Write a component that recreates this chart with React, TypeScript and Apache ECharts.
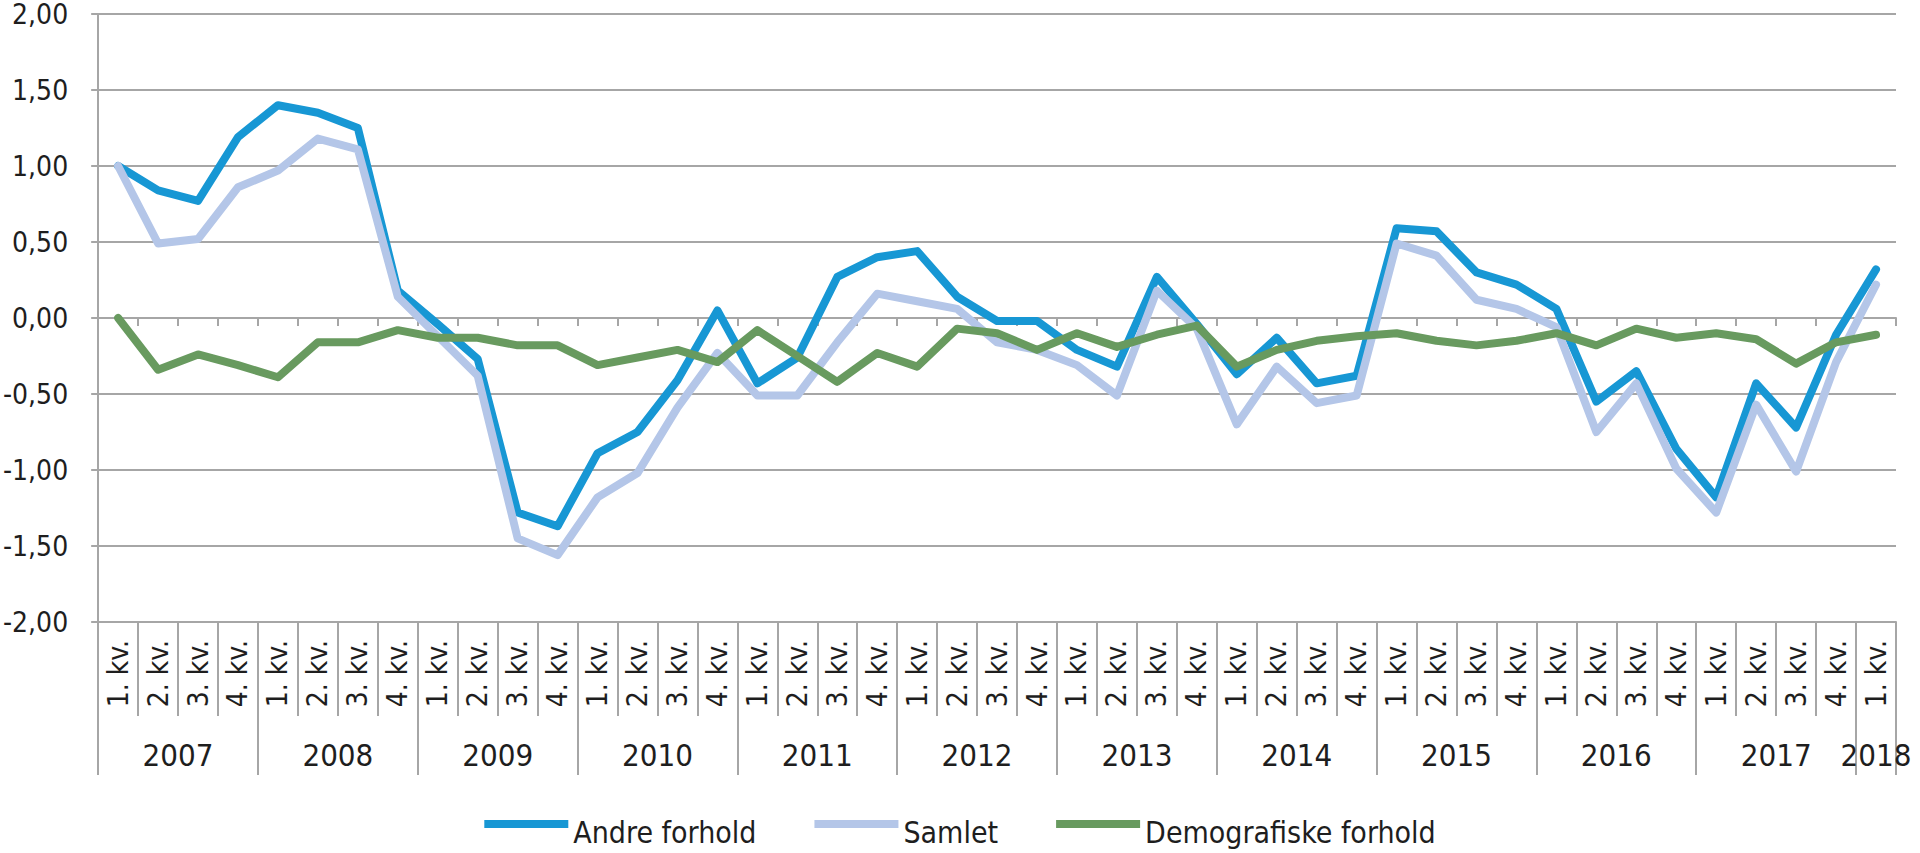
import React, { useEffect, useRef } from 'react';
import * as echarts from 'echarts';

const years = ['2007', '2008', '2009', '2010', '2011', '2012', '2013', '2014', '2015', '2016', '2017'];
const lastYear = '2018';
const quarterNames = ['1. kv.', '2. kv.', '3. kv.', '4. kv.'];

const andre = [
  1.0, 0.84, 0.77, 1.19, 1.4, 1.35, 1.25, 0.18,
  -0.04, -0.27, -1.28, -1.37,
  -0.89, -0.75, -0.41, 0.05,
  -0.43, -0.26, 0.27, 0.4,
  0.44, 0.14, -0.02, -0.02,
  -0.21, -0.32, 0.27, -0.04,
  -0.37, -0.13, -0.43, -0.38,
  0.59, 0.57, 0.3, 0.22,
  0.06, -0.55, -0.35, -0.86,
  -1.18, -0.43, -0.72, -0.11,
  0.32,
];

const samlet = [
  1.0, 0.49, 0.52, 0.86, 0.97, 1.18, 1.11, 0.14,
  -0.12, -0.38, -1.45, -1.56,
  -1.18, -1.02, -0.59, -0.23,
  -0.51, -0.51, -0.16, 0.16,
  0.11, 0.06, -0.16, -0.21,
  -0.31, -0.51, 0.18, -0.07,
  -0.7, -0.32, -0.56, -0.51,
  0.49, 0.41, 0.12, 0.06,
  -0.06, -0.75, -0.43, -0.99,
  -1.28, -0.57, -1.01, -0.29,
  0.22,
];

const demo = [
  0.0, -0.34, -0.24, -0.31, -0.39, -0.16, -0.16, -0.08,
  -0.13, -0.13, -0.18, -0.18,
  -0.31, -0.26, -0.21, -0.29,
  -0.08, -0.25, -0.42, -0.23,
  -0.32, -0.07, -0.1, -0.21,
  -0.1, -0.19, -0.11, -0.05,
  -0.32, -0.21, -0.15, -0.12,
  -0.1, -0.15, -0.18, -0.15,
  -0.1, -0.18, -0.07, -0.13,
  -0.1, -0.14, -0.3, -0.16,
  -0.11,
];

const seriesNames = ['Andre forhold', 'Samlet', 'Demografiske forhold'];
const seriesColors = ['#1797d4', '#b4c6e8', '#689a5f'];

const FONT = '"DejaVu Sans Condensed", "DejaVu Sans", sans-serif';
const TEXT = '#1e1e1e';
const GRAY = '#a6a6a6';

export default function App() {
  const ref = useRef<HTMLDivElement>(null);

  useEffect(() => {
    document.body.style.margin = '0';
    const chart = echarts.init(ref.current!, null, { renderer: 'svg' });

    const quarters: string[] = [];
    years.forEach(() => quarterNames.forEach((q) => quarters.push(q)));
    quarters.push(quarterNames[0]);

    // half-quarter points for the year row (boundaryGap false)
    const halfSteps = quarters.length * 2 + 1;
    const yearAxisData: string[] = [];
    for (let i = 0; i < halfSteps; i++) yearAxisData.push('');
    years.forEach((y, k) => {
      yearAxisData[k * 8 + 4] = y;
    });
    yearAxisData[halfSteps - 2] = lastYear;

    const lastBoundary = halfSteps - 1;

    const option: any = {
      animation: false,
      grid: { left: 98, right: 24, top: 14, bottom: 231, containLabel: false },
      legend: {
        data: seriesNames,
        left: 'center',
        top: 817,
        padding: 0,
        itemWidth: 84,
        itemHeight: 24,
        itemGap: 58,
        icon: 'path://M0 0H84V8H0Z M0 24H0.01V23.99Z',
        textStyle: { fontFamily: FONT, fontSize: 30, lineHeight: 30, color: TEXT },
      },
      xAxis: [
        {
          type: 'category',
          data: quarters,
          position: 'bottom',
          boundaryGap: true,
          axisLine: { show: true, onZero: false, lineStyle: { color: GRAY, width: 2 } },
          axisTick: { show: true, interval: 0, length: 94, lineStyle: { color: GRAY, width: 2 } },
          axisLabel: {
            interval: 0,
            rotate: 90,
            margin: 18,
            fontFamily: FONT,
            fontSize: 28,
            color: TEXT,
          },
          splitLine: { show: false },
        },
        {
          type: 'category',
          data: yearAxisData,
          position: 'bottom',
          boundaryGap: false,
          axisLine: { show: false, onZero: false },
          axisTick: {
            show: true,
            length: 153,
            interval: (idx: number) => idx % 8 === 0 || idx === lastBoundary,
            lineStyle: { color: GRAY, width: 2 },
          },
          axisLabel: {
            interval: (idx: number) => yearAxisData[idx] !== '',
            margin: 117,
            fontFamily: FONT,
            fontSize: 31,
            color: TEXT,
          },
          splitLine: { show: false },
        },
        {
          type: 'category',
          data: quarters,
          position: 'bottom',
          boundaryGap: true,
          axisLine: { show: true, onZero: true, lineStyle: { color: GRAY, width: 2 } },
          axisTick: { show: true, interval: 0, length: 8, lineStyle: { color: GRAY, width: 2 } },
          axisLabel: { show: false },
          splitLine: { show: false },
        },
      ],
      yAxis: {
        type: 'value',
        min: -2,
        max: 2,
        interval: 0.5,
        axisLine: { show: true, onZero: false, lineStyle: { color: GRAY, width: 2 } },
        axisTick: { show: true, length: 7, lineStyle: { color: GRAY, width: 2 } },
        axisLabel: {
          margin: 30,
          fontFamily: FONT,
          fontSize: 28,
          lineHeight: 16,
          padding: [8, 0, 0, 0],
          color: TEXT,
          formatter: (v: number) => v.toFixed(2).replace('.', ','),
        },
        splitLine: { show: true, lineStyle: { color: GRAY, width: 2 } },
      },
      series: [andre, samlet, demo].map((d, i) => ({
        name: seriesNames[i],
        type: 'line',
        xAxisIndex: 0,
        yAxisIndex: 0,
        data: d,
        color: seriesColors[i],
        symbol: 'none',
        lineStyle: { width: 8, color: seriesColors[i], join: 'round', cap: 'round' },
        z: 3 + i,
      })),
    };

    chart.setOption(option);
    return () => chart.dispose();
  }, []);

  return <div ref={ref} style={{ width: 1920, height: 853 }} />;
}
